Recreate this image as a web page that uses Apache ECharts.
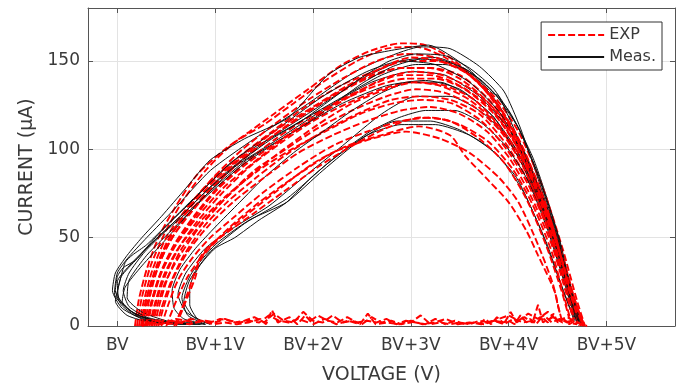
<!DOCTYPE html>
<html>
<head>
<meta charset="utf-8">
<script src="https://cdn.jsdelivr.net/npm/echarts@6/dist/echarts.min.js"></script>
<style>
  html, body { margin: 0; padding: 0; background: #fff; }
  #chart { width: 680px; height: 390px; }
</style>
</head>
<body>
<div id="chart"></div>
<script>
// tick positions, in volts above breakdown
const voltTicks = [0, 1, 2, 3, 4, 5];
const currentTicks = [0, 50, 100, 150];

// measured loops [V above BV, µA]
const meas1 = [[0.9,1],[0.5,2],[0.2,6],[0.02,15],[0.0,25],[0.12,34],[0.35,47],[0.68,64],[1.05,84],[1.5,104],[2.0,122],[2.5,140],[2.9,150],[3.25,152],[3.6,144],[3.9,125],[4.2,94],[4.42,60],[4.6,26],[4.72,3]];
const meas2 = [[0.8,2],[0.4,3],[0.15,8],[-0.03,18],[0.0,30],[0.1,38],[0.3,50],[0.58,66],[0.95,88],[1.4,106],[1.9,124],[2.4,143],[2.75,152],[3.1,158],[3.4,157],[3.7,147],[3.95,133],[4.12,112],[4.32,80],[4.5,48],[4.65,16],[4.75,2]];
const meas3 = [[0.95,1],[0.78,5],[0.68,14],[0.74,26],[0.95,42],[1.3,58],[1.73,72],[2.15,92],[2.55,108],[2.9,114],[3.25,114],[3.6,108],[3.9,96],[4.15,76],[4.38,48],[4.56,20],[4.68,3]];
const meas4 = [[0.85,1],[0.45,2],[0.18,7],[0.05,14],[0.08,22],[0.25,34],[0.48,48],[0.8,68],[1.2,90],[1.65,106],[2.15,124],[2.6,138],[3.0,144],[3.35,142],[3.7,130],[4.02,110],[4.28,80],[4.48,46],[4.64,14],[4.73,1]];
const meas5 = [[0.9,2],[0.7,8],[0.62,18],[0.7,30],[0.9,44],[1.2,56],[1.55,68],[1.9,84],[2.3,102],[2.7,120],[3.05,130],[3.4,130],[3.75,120],[4.05,102],[4.3,74],[4.5,42],[4.66,12],[4.72,1]];
const meas6 = [[0.7,1],[0.35,2],[0.1,6],[-0.02,14],[0.02,24],[0.08,36],[0.15,40],[0.3,46],[0.52,58],[0.85,76],[1.25,96],[1.75,112],[2.25,128],[2.7,142],[3.05,148],[3.35,148],[3.7,140],[4.0,122],[4.25,95],[4.45,62],[4.6,30],[4.72,4]];
const meas7 = [[0.8,1],[0.5,3],[0.25,8],[0.1,16],[0.12,26],[0.3,40],[0.55,54],[0.88,72],[1.3,92],[1.8,110],[2.3,126],[2.75,136],[3.15,139],[3.5,134],[3.85,118],[4.15,90],[4.4,56],[4.58,24],[4.7,2]];
const meas8 = [[0.9,1],[0.72,6],[0.66,16],[0.76,30],[1.0,46],[1.35,60],[1.73,70],[2.1,88],[2.5,106],[2.85,116],[3.2,116],[3.5,111],[3.8,101],[4.08,84],[4.33,54],[4.53,24],[4.67,3]];
const meas9 = [[0.75,1],[0.4,2],[0.12,9],[0.0,18],[0.04,28],[0.2,38],[0.42,52],[0.75,70],[1.15,92],[1.6,110],[2.1,130],[2.55,144],[2.9,150],[3.25,148],[3.6,138],[3.92,120],[4.2,90],[4.43,54],[4.62,18],[4.72,1]];
const meas10 = [[0.6,1],[0.3,3],[0.05,10],[-0.05,20],[-0.02,30],[0.1,40],[0.25,50],[0.45,62],[0.7,78],[0.95,94],[1.3,106],[1.75,118],[2.15,142],[2.47,152],[2.8,156],[3.18,159],[3.56,147],[3.83,132],[3.9,130],[4.13,102],[4.34,74],[4.51,51],[4.64,20],[4.74,1]];
const meas11 = [[0.85,1],[0.55,2],[0.3,5],[0.12,11],[0.06,20],[0.12,30],[0.28,42],[0.5,54],[0.75,66],[1.02,80],[1.32,94],[1.62,104],[1.92,114],[2.22,126],[2.52,138],[2.82,147],[3.1,151],[3.35,150],[3.6,144],[3.85,132],[4.1,112],[4.3,86],[4.48,56],[4.62,24],[4.72,2]];
const meas12 = [[0.95,1],[0.82,4],[0.74,12],[0.74,22],[0.84,34],[1.0,44],[1.2,50],[1.45,60],[1.73,70],[1.98,84],[2.28,98],[2.58,110],[2.88,118],[3.15,122],[3.45,122],[3.72,115],[3.97,102],[4.2,82],[4.4,54],[4.56,26],[4.68,4]];
const meas13 = [[0.7,1],[0.4,2],[0.18,6],[0.04,12],[-0.02,20],[0.0,28],[0.06,33],[0.18,37],[0.3,44],[0.45,52],[0.68,64],[0.98,80],[1.28,94],[1.58,106],[1.88,116],[2.18,128],[2.48,140],[2.78,150],[3.05,154],[3.35,153],[3.6,146],[3.85,134],[4.1,112],[4.32,82],[4.5,50],[4.65,18],[4.74,1]];
const meas14 = [[0.9,1],[0.68,4],[0.58,10],[0.56,20],[0.64,32],[0.8,44],[1.0,56],[1.25,70],[1.5,84],[1.8,98],[2.1,110],[2.4,122],[2.7,132],[3.0,138],[3.3,138],[3.6,130],[3.85,118],[4.1,98],[4.32,70],[4.5,42],[4.64,14],[4.7,1]];

// model (EXP) loops
const exp1 = [[0.18,0],[0.22,15],[0.3,32],[0.42,50],[0.6,68],[0.82,86],[1.1,100],[1.35,110],[1.6,120],[1.95,134],[2.3,148],[2.6,156],[2.9,160],[3.15,159],[3.45,150],[3.75,134],[4.0,114],[4.25,84],[4.45,54],[4.62,24],[4.74,4]];
const exp2 = [[0.2,0],[0.25,16],[0.34,34],[0.48,52],[0.66,70],[0.9,88],[1.2,104],[1.5,114],[1.8,126],[2.1,138],[2.45,150],[2.75,157],[3.05,158],[3.35,152],[3.65,140],[3.95,120],[4.2,92],[4.42,60],[4.6,28],[4.74,4]];
const exp3 = [[0.24,0],[0.29,14],[0.38,30],[0.52,48],[0.72,66],[0.98,84],[1.28,100],[1.6,114],[1.95,128],[2.3,140],[2.65,150],[2.95,154],[3.25,152],[3.55,144],[3.85,128],[4.1,104],[4.33,74],[4.52,42],[4.68,12],[4.77,0]];
const exp4 = [[0.26,0],[0.3,12],[0.38,28],[0.5,44],[0.68,60],[0.92,76],[1.2,92],[1.5,104],[1.85,118],[2.2,130],[2.55,140],[2.9,146],[3.2,146],[3.5,140],[3.8,126],[4.05,106],[4.3,76],[4.5,44],[4.66,14],[4.76,0]];
const exp5 = [[0.3,0],[0.35,14],[0.44,30],[0.58,46],[0.78,62],[1.02,78],[1.3,92],[1.62,106],[1.95,118],[2.3,128],[2.65,136],[2.95,140],[3.25,140],[3.55,134],[3.85,120],[4.1,100],[4.34,70],[4.54,38],[4.7,8],[4.76,0]];
const exp6 = [[0.33,0],[0.38,12],[0.47,28],[0.6,42],[0.8,58],[1.05,74],[1.35,90],[1.68,104],[2.0,116],[2.35,126],[2.7,134],[3.0,138],[3.3,136],[3.6,128],[3.88,114],[4.12,94],[4.36,64],[4.56,32],[4.7,6],[4.74,0]];
const exp7 = [[0.22,0],[0.27,14],[0.36,32],[0.5,50],[0.7,66],[0.95,82],[1.25,96],[1.58,110],[1.92,124],[2.28,136],[2.62,144],[2.95,150],[3.25,150],[3.55,144],[3.85,130],[4.1,110],[4.35,78],[4.55,44],[4.7,14],[4.78,0]];
const exp8 = [[0.36,0],[0.41,12],[0.5,26],[0.64,40],[0.84,56],[1.1,72],[1.4,88],[1.72,100],[2.05,112],[2.4,122],[2.75,130],[3.05,134],[3.35,132],[3.65,124],[3.92,110],[4.15,90],[4.38,60],[4.56,30],[4.68,6],[4.72,0]];
const exp9 = [[0.28,0],[0.33,16],[0.42,34],[0.56,50],[0.75,64],[1.0,80],[1.28,94],[1.6,108],[1.92,120],[2.25,132],[2.6,142],[2.9,146],[3.2,146],[3.5,142],[3.8,128],[4.06,108],[4.3,80],[4.5,48],[4.66,16],[4.76,2]];
const exp10 = [[0.4,0],[0.45,10],[0.54,24],[0.68,40],[0.88,56],[1.12,70],[1.42,84],[1.75,98],[2.1,110],[2.45,120],[2.8,128],[3.1,130],[3.4,128],[3.7,120],[3.96,104],[4.2,82],[4.4,56],[4.56,28],[4.66,6]];
const exp11 = [[0.31,0],[0.36,14],[0.45,30],[0.6,46],[0.82,62],[1.08,78],[1.38,92],[1.7,106],[2.02,118],[2.38,130],[2.72,140],[3.02,144],[3.32,142],[3.62,134],[3.9,120],[4.14,98],[4.38,66],[4.56,34],[4.7,8],[4.76,0]];
const exp12 = [[0.25,0],[0.3,16],[0.4,34],[0.55,52],[0.76,68],[1.02,84],[1.32,98],[1.65,112],[2.0,124],[2.35,136],[2.7,146],[3.0,152],[3.3,150],[3.6,142],[3.88,126],[4.12,104],[4.36,72],[4.56,38],[4.7,10],[4.78,0]];
const exp13 = [[0.35,0],[0.4,14],[0.5,30],[0.65,46],[0.86,60],[1.12,74],[1.44,88],[1.78,100],[2.12,110],[2.48,120],[2.82,126],[3.12,128],[3.42,126],[3.72,116],[3.98,100],[4.2,80],[4.42,52],[4.58,24],[4.68,4]];
const exp14 = [[0.29,0],[0.34,12],[0.43,28],[0.57,44],[0.77,60],[1.0,76],[1.28,90],[1.58,102],[1.9,114],[2.22,126],[2.58,136],[2.9,142],[3.2,142],[3.5,136],[3.8,124],[4.06,104],[4.3,76],[4.52,42],[4.68,12],[4.76,0]];
const exp15 = [[0.38,0],[0.43,12],[0.52,28],[0.66,44],[0.86,58],[1.1,72],[1.38,86],[1.7,100],[2.05,114],[2.4,126],[2.75,134],[3.05,138],[3.35,136],[3.65,128],[3.92,112],[4.16,92],[4.38,62],[4.56,30],[4.7,6]];
const exp16 = [[0.45,0],[0.52,12],[0.62,26],[0.76,38],[0.95,50],[1.2,62],[1.5,76],[1.85,90],[2.2,102],[2.55,110],[2.9,116],[3.2,118],[3.5,114],[3.8,104],[4.05,88],[4.25,68],[4.44,42],[4.56,18],[4.64,2]];
const exp17 = [[0.5,0],[0.6,14],[0.72,28],[0.9,42],[1.15,56],[1.45,70],[1.8,84],[2.2,98],[2.6,106],[2.95,110],[3.3,106],[3.6,98],[3.9,84],[4.1,70],[4.3,46],[4.45,24],[4.52,8],[4.55,2]];
const exp18 = [[0.58,0],[0.66,10],[0.74,22],[0.8,32],[0.88,40],[1.05,50],[1.3,62],[1.62,76],[2.0,92],[2.35,102],[2.7,108],[3.08,113],[3.4,108],[3.56,96],[3.8,82],[4.0,70],[4.18,54],[4.3,40],[4.42,26],[4.48,18],[4.5,12],[4.53,6]];
const exp19 = [[0.42,0],[0.48,12],[0.58,28],[0.72,42],[0.92,56],[1.18,70],[1.5,84],[1.85,98],[2.2,108],[2.55,116],[2.9,122],[3.2,124],[3.5,120],[3.78,110],[4.02,94],[4.24,72],[4.44,46],[4.58,20],[4.66,4]];
const exp20 = [[0.6,0],[0.7,14],[0.8,28],[0.84,38],[0.95,46],[1.15,54],[1.4,64],[1.7,76],[2.05,90],[2.4,102],[2.75,112],[3.1,118],[3.4,116],[3.7,106],[3.96,92],[4.18,72],[4.38,46],[4.54,20],[4.62,4]];

// noisy return path along the floor
const expFloorA = [[0.3,1],[0.4,3],[0.5,2],[0.6,4],[0.7,3],[0.8,2],[0.9,3],[1.0,2],[1.1,4],[1.2,2],[1.3,3],[1.4,5],[1.5,2],[1.6,7],[1.7,3],[1.8,2],[1.9,8],[2.0,3],[2.1,2],[2.2,6],[2.3,2],[2.4,3],[2.5,1],[2.6,5],[2.7,2],[2.8,3],[2.9,1],[3.0,2],[3.1,6],[3.2,1],[3.3,2],[3.4,1],[3.5,2],[3.6,1],[3.7,3],[3.8,2],[3.9,4],[4.0,6],[4.1,3],[4.2,7],[4.3,4],[4.4,8],[4.5,3],[4.6,5],[4.7,2],[4.8,0]];
const expFloorB = [[4.75,1],[4.65,3],[4.55,2],[4.45,5],[4.35,2],[4.3,12],[4.25,3],[4.15,2],[4.05,4],[3.95,1],[3.85,3],[3.75,1],[3.65,2],[3.55,1],[3.45,3],[3.35,1],[3.25,4],[3.15,1],[3.05,2],[2.95,3],[2.85,1],[2.75,4],[2.65,2],[2.55,3],[2.45,2],[2.35,5],[2.25,2],[2.15,3],[2.05,6],[1.95,2],[1.85,4],[1.75,2],[1.65,3],[1.55,6],[1.45,2],[1.35,3],[1.25,2],[1.15,3],[1.05,4],[0.95,2],[0.85,3],[0.75,4],[0.65,2],[0.55,3],[0.45,1],[0.35,2],[0.25,0]];
const expFloorC = [[0.5,1],[0.62,2],[0.74,1],[0.86,3],[0.98,1],[1.1,2],[1.22,1],[1.34,2],[1.46,4],[1.52,1],[1.58,9],[1.64,2],[1.76,5],[1.84,1],[1.92,6],[2.0,1],[2.12,4],[2.24,1],[2.36,3],[2.48,1],[2.56,7],[2.64,1],[2.76,2],[2.88,1],[3.0,3],[3.12,1],[3.24,2],[3.36,4],[3.48,1],[3.6,2],[3.72,1],[3.84,3],[3.96,2],[4.02,8],[4.08,2],[4.16,5],[4.24,2],[4.36,6],[4.44,2],[4.52,4],[4.6,2],[4.7,1]];
const expFloorD = [[3.7,1],[3.76,4],[3.82,1],[3.88,5],[3.94,2],[4.0,3],[4.06,1],[4.12,6],[4.18,2],[4.22,4],[4.28,1],[4.34,5],[4.4,2],[4.46,7],[4.5,2],[4.56,4],[4.62,1],[4.68,3],[4.74,1],[4.8,0]];

const measLoops = [meas1, meas2, meas3, meas4, meas5, meas6, meas7, meas8, meas9, meas10, meas11, meas12, meas13, meas14];
const expLoops = [exp1, exp2, exp3, exp4, exp5, exp6, exp7, exp8, exp9, exp10, exp11, exp12, exp13, exp14,
  exp15, exp16, exp17, exp18, exp19, exp20];
const expFloors = [expFloorA, expFloorB, expFloorC, expFloorD];

const chart = echarts.init(document.getElementById('chart'));
const font = 'DejaVu Sans';
const ink = '#3a3a3a';
const frame = '#555';

function measSeries(d) {
  return { name: 'Meas.', type: 'line', data: d, smooth: 0.2, symbol: 'none', showSymbol: false,
    lineStyle: { color: '#111', width: 1 }, itemStyle: { color: '#111' } };
}
function expSeries(d, smooth, w) {
  return { name: 'EXP', type: 'line', data: d, smooth: smooth, symbol: 'none', showSymbol: false,
    lineStyle: { color: '#ff0000', width: w, type: [7, 3] }, itemStyle: { color: '#ff0000' } };
}

// interleave so black shows through the red band in places
const series = [];
const n = Math.max(measLoops.length, expLoops.length);
for (let i = 0; i < n; i++) {
  if (expLoops[i]) series.push(expSeries(expLoops[i], 0.25, 1.9));
  if (measLoops[i]) series.push(measSeries(measLoops[i]));
}
expFloors.forEach(f => series.push(expSeries(f, false, 2)));

const fmtVolt = v => (v === 0 ? 'BV' : 'BV+' + v + 'V');

chart.setOption({
  animation: false,
  textStyle: { fontFamily: font },
  grid: { left: 88, right: 5, top: 8, bottom: 62 },
  legend: {
    data: ['EXP', 'Meas.'],
    orient: 'vertical',
    right: 18, top: 22,
    backgroundColor: '#fff',
    borderColor: '#333', borderWidth: 1, borderRadius: 0,
    padding: [5, 6, 5, 6],
    itemWidth: 56, itemHeight: 10, itemGap: 6,
    itemStyle: { opacity: 0 },
    textStyle: { fontFamily: font, fontSize: 16, color: ink }
  },
  xAxis: [{
    type: 'value', min: -0.3, max: 5.7, position: 'bottom',
    name: 'VOLTAGE (V)', nameLocation: 'middle', nameGap: 40,
    nameTextStyle: { fontFamily: font, fontSize: 19, color: ink },
    axisLine: { onZero: false, lineStyle: { color: frame, width: 1 } },
    axisTick: { inside: true, length: 5, customValues: voltTicks, lineStyle: { color: frame } },
    axisLabel: { customValues: voltTicks, formatter: fmtVolt, margin: 11, fontSize: 17, color: ink, fontFamily: font },
    splitLine: { show: true, lineStyle: { color: '#e3e3e3' } }
  }, {
    type: 'value', min: -0.3, max: 5.7, position: 'top',
    axisLine: { onZero: false, lineStyle: { color: frame, width: 1 } },
    axisTick: { inside: true, length: 5, customValues: voltTicks, lineStyle: { color: frame } },
    axisLabel: { show: false }, splitLine: { show: false }
  }],
  yAxis: [{
    type: 'value', min: 0, max: 180, position: 'left',
    name: 'CURRENT (µA)', nameLocation: 'middle', nameGap: 48,
    nameTextStyle: { fontFamily: font, fontSize: 19, color: ink },
    axisLine: { show: true, onZero: false, lineStyle: { color: frame, width: 1 } },
    axisTick: { show: true, inside: true, length: 5, customValues: currentTicks, lineStyle: { color: frame } },
    axisLabel: { customValues: currentTicks, margin: 8, fontSize: 17, color: ink, fontFamily: font },
    splitLine: { show: true, lineStyle: { color: '#e3e3e3' } }
  }, {
    type: 'value', min: 0, max: 180, position: 'right',
    axisLine: { show: true, onZero: false, lineStyle: { color: frame, width: 1 } },
    axisTick: { show: true, inside: true, length: 5, customValues: currentTicks, lineStyle: { color: frame } },
    axisLabel: { show: false }, splitLine: { show: false }
  }],
  series: series
});
</script>
</body>
</html>
